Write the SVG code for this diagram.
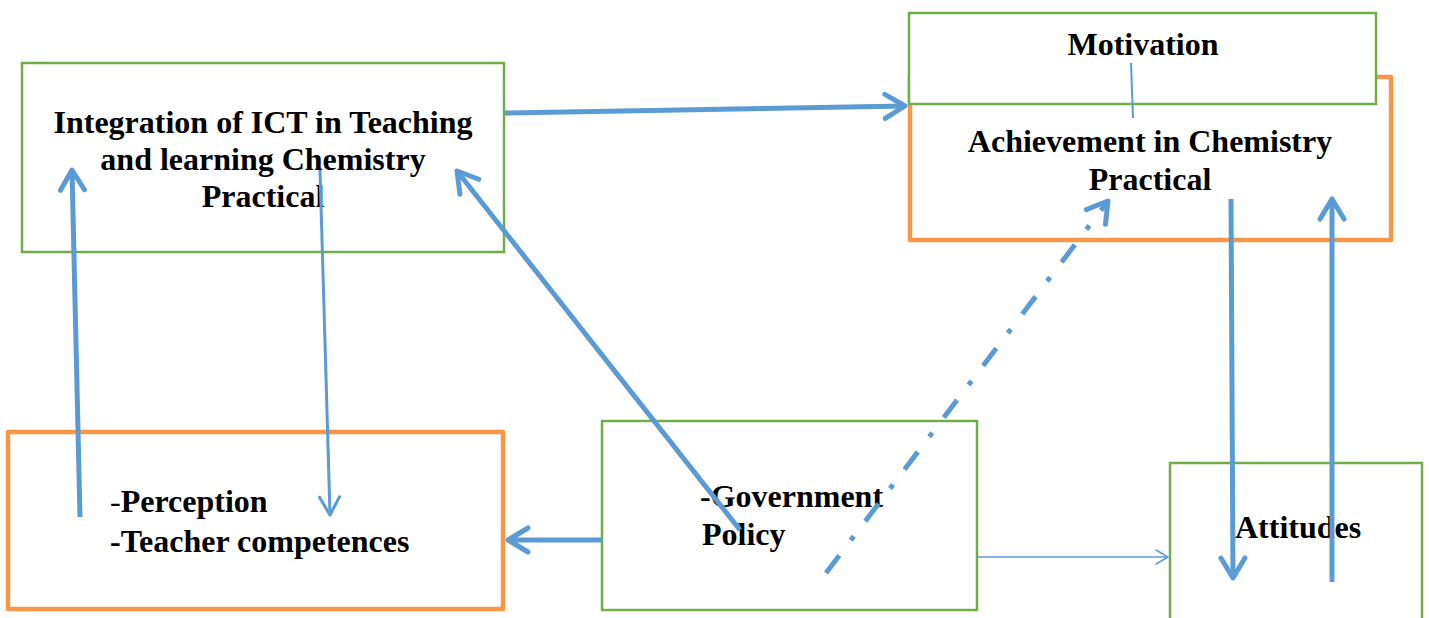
<svg xmlns="http://www.w3.org/2000/svg" width="1429" height="618" viewBox="0 0 1429 618">
<style>
.g{fill:#fff;stroke:#70AD47;stroke-width:2.5}
.o{fill:#fff;stroke:#F79646;stroke-width:4.5;stroke-linejoin:round}
.t{font-family:"Liberation Serif","Times New Roman",serif;font-weight:bold;font-size:32px;fill:#000}
.c{fill:none;stroke:#5B9BD5;stroke-linecap:butt}
.k{stroke-width:5}
</style>
<defs>
<marker id="ah" markerUnits="userSpaceOnUse" viewBox="0 0 28 32" markerWidth="28" markerHeight="32" refX="24" refY="16" orient="auto">
<path d="M4,4 L24,16 L4,28" fill="none" stroke="#5B9BD5" stroke-width="5" stroke-linecap="round" stroke-linejoin="round"/>
</marker>
<marker id="am" markerUnits="userSpaceOnUse" viewBox="0 0 24 26" markerWidth="24" markerHeight="26" refX="21" refY="13" orient="auto">
<path d="M3,3 L21,13 L3,23" fill="none" stroke="#5B9BD5" stroke-width="3" stroke-linecap="round" stroke-linejoin="round"/>
</marker>
<marker id="as" markerUnits="userSpaceOnUse" viewBox="0 0 16 18" markerWidth="16" markerHeight="18" refX="14" refY="9" orient="auto">
<path d="M2,2 L14,9 L2,16" fill="none" stroke="#5B9BD5" stroke-width="1.5" stroke-linecap="round" stroke-linejoin="round"/>
</marker>
</defs>
<g id="integration">
<rect class="g" x="22" y="63" width="482" height="189"/>
<text class="t" x="263" y="133" text-anchor="middle">Integration of ICT in Teaching</text>
<text class="t" x="263" y="170" text-anchor="middle">and learning Chemistry</text>
<text class="t" x="263" y="207" text-anchor="middle">Practical</text>
</g>
<g id="achievement">
<rect class="o" x="910" y="77" width="481" height="163"/>
<text class="t" x="1150" y="152" text-anchor="middle">Achievement in Chemistry</text>
<text class="t" x="1150" y="190" text-anchor="middle">Practical</text>
</g>
<g id="motivation">
<rect class="g" x="909" y="13" width="467" height="91"/>
<text class="t" x="1143" y="55" text-anchor="middle">Motivation</text>
</g>
<g id="perception">
<rect class="o" x="8" y="432" width="495" height="177"/>
<text class="t" x="110" y="512"><tspan font-weight="normal">-</tspan>Perception</text>
<text class="t" x="110" y="552">-Teacher competences</text>
</g>
<g id="government">
<rect class="g" x="602" y="421" width="375" height="189"/>
<text class="t" x="700" y="507">-Government</text>
<text class="t" x="702" y="545">Policy</text>
</g>
<g id="attitudes">
<rect class="g" x="1170" y="463" width="252" height="170"/>
<text class="t" x="1235" y="538">Attitudes</text>
</g>
<g id="connectors">
<line class="c k" x1="505" y1="113" x2="905" y2="106" marker-end="url(#ah)"/>
<line class="c k" x1="80" y1="517" x2="72" y2="170" marker-end="url(#ah)"/>
<line class="c" stroke-width="3" x1="320" y1="170" x2="330" y2="515" marker-end="url(#am)"/>
<line class="c k" x1="740" y1="530" x2="457" y2="171" marker-end="url(#ah)"/>
<line class="c k" x1="826" y1="573" x2="1108" y2="201" stroke-dasharray="22 19 5 19" marker-end="url(#ah)"/>
<line class="c k" x1="602" y1="540" x2="508" y2="540" marker-end="url(#ah)"/>
<line class="c" stroke-width="1.5" x1="978" y1="557" x2="1168" y2="557" marker-end="url(#as)"/>
<line class="c k" x1="1231" y1="199" x2="1233" y2="578" marker-end="url(#ah)"/>
<line class="c k" x1="1332" y1="582" x2="1332" y2="199" marker-end="url(#ah)"/>
<line class="c" stroke-width="2" x1="1131" y1="63" x2="1133" y2="118"/>
</g>
</svg>
